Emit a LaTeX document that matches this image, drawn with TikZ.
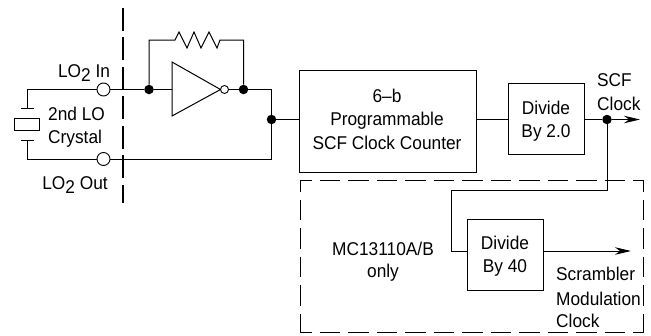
\documentclass[tikz,border=0pt]{standalone}
\usepackage{fontspec}
\setmainfont[FakeStretch=.935]{Liberation Sans}
\usetikzlibrary{arrows.meta}
\tikzset{
  wire/.style={line width=1pt,draw=black},
  blockbox/.style={draw=black,line width=1pt,rectangle,minimum width=0pt,inner sep=0pt,anchor=north west,fill=white},
  lbl/.style={font=\fontsize{18.5}{20}\selectfont,align=center,inner sep=0pt,text=black},
  dotn/.style={circle,fill=black,draw=none,minimum size=9.5pt,inner sep=0pt},
  pin/.style={circle,fill=white,draw=black,line width=.9pt,minimum size=13pt,inner sep=0pt},
  bub/.style={circle,fill=white,draw=black,line width=.9pt,minimum size=8pt,inner sep=0pt},
  arr/.style={wire,-{Stealth[length=16pt,width=7.5pt,inset=5pt]}},
  encl/.style={line width=1pt,dash pattern=on 20.5pt off 8pt,dash phase=9pt,line cap=butt}
}
\begin{document}
\begin{tikzpicture}[x=1pt,y=-1pt]
\useasboundingbox (0,0) rectangle (651,335);
% coordinates
\coordinate (xtop) at (27,89.5);
\coordinate (xbot) at (27,159);
\coordinate (pt) at (27,108);
\coordinate (pb) at (27,140);
\coordinate (fbL) at (149,40);
\coordinate (fbR) at (243.5,40);
\coordinate (rA) at (175,40);
\coordinate (rB) at (220,40);
\coordinate (corner) at (271.5,89.5);
\coordinate (cornerb) at (271.5,159);
\coordinate (arrEnd) at (640,119.5);
\coordinate (arrEnd2) at (631,251);
\coordinate (t1) at (607,190);
\coordinate (t2) at (451,190);
\coordinate (t3) at (451,251);
\coordinate (cutT) at (122.5,7.5);
\coordinate (cutB) at (122.5,203);
\coordinate (eNW) at (300,180);
\coordinate (eNE) at (643,180);
\coordinate (eSW) at (300,332.5);
\coordinate (eSE) at (643,332.5);
% boxes
\node[blockbox,minimum width=177.5pt,minimum height=102pt] (cnt) at (298.5,70) {};
\node[blockbox,minimum width=76pt,minimum height=71pt] (d2) at (508,83) {};
\node[blockbox,minimum width=76pt,minimum height=71.5pt] (d40) at (467,218.5) {};
% pins, dots
\node[pin] (pinA) at (103.5,89.5) {};
\node[pin] (pinB) at (103.5,159) {};
\node[dotn] (dA) at (149,89.5) {};
\node[dotn] (dB) at (243.5,89.5) {};
\node[dotn] (dC) at (271.5,119.5) {};
\node[dotn] (dD) at (607,119.5) {};
% cut line
\draw[line width=2pt,dash pattern=on 23pt off 6.5pt] (cutT) -- (cutB);
% wires
\draw[wire] (pinA) -- (xtop) -- (pt);
\draw[wire] (pinB) -- (xbot) -- (pb);
\draw[wire] (21,108) -- (34,108);
\draw[wire] (21,140) -- (34,140);
\draw[wire] (14.5,118) rectangle (39,130);
\draw[wire] (pinA) -- (dA);
\draw[wire] (dA) -- (172,89.5);
\draw[wire] (dA) -- (fbL) -- (rA) -- (179,32) -- (187,48) -- (194,32) -- (201,48) -- (209,32) -- (217,48) -- (rB) -- (fbR) -- (dB);
\draw[wire] (dB) -- (corner) -- (dC);
\draw[wire] (pinB) -- (cornerb) -- (dC);
\draw[wire] (dC) -- (cnt.west |- dC);
\draw[wire] (cnt.east |- dD) -- (d2.west |- dD);
\draw[wire] (d2.east |- dD) -- (dD);
\draw[arr] (dD) -- (arrEnd);
\draw[wire] (dD) -- (t1) -- (t2) -- (t3) -- (d40.west |- t3);
\draw[arr] (d40.east |- t3) -- (arrEnd2);
% inverter
\draw[wire,fill=white] (172,62) -- (172,116) -- (220.5,89.5) -- cycle;
\node[bub] (bb) at (224.5,89.5) {};
\draw[wire] (bb) -- (dB);
% dashed enclosure
\draw[encl] (eNW) -- (eNE);
\draw[encl] (eNW) -- (eSW);
\draw[encl] (eSW) -- (eSE);
\draw[encl] (eNE) -- (eSE);
% labels
\node[lbl,anchor=base] at (84,77) {LO\raisebox{-4pt}{2} In};
\node[lbl,anchor=base] at (75,189) {LO\raisebox{-4pt}{2} Out};
\node[lbl,anchor=base west] at (48,120) {2nd LO};
\node[lbl,anchor=base west] at (48,143) {Crystal};
\node[lbl,anchor=base] at (387,102) {6–b};
\node[lbl,anchor=base] at (387,125) {Programmable};
\node[lbl,anchor=base] at (387,149) {SCF Clock Counter};
\node[lbl,anchor=base] at (546,114) {Divide};
\node[lbl,anchor=base] at (546,137) {By 2.0};
\node[lbl,anchor=base west] at (597,86) {SCF};
\node[lbl,anchor=base west] at (597,110) {Clock};
\node[lbl,anchor=base] at (383,255) {MC13110A/B};
\node[lbl,anchor=base] at (383,277) {only};
\node[lbl,anchor=base] at (505,249) {Divide};
\node[lbl,anchor=base] at (505,272) {By 40};
\node[lbl,anchor=base west] at (556,280) {Scrambler};
\node[lbl,anchor=base west] at (556,305) {Modulation};
\node[lbl,anchor=base west] at (556,327) {Clock};
\end{tikzpicture}
\end{document}
